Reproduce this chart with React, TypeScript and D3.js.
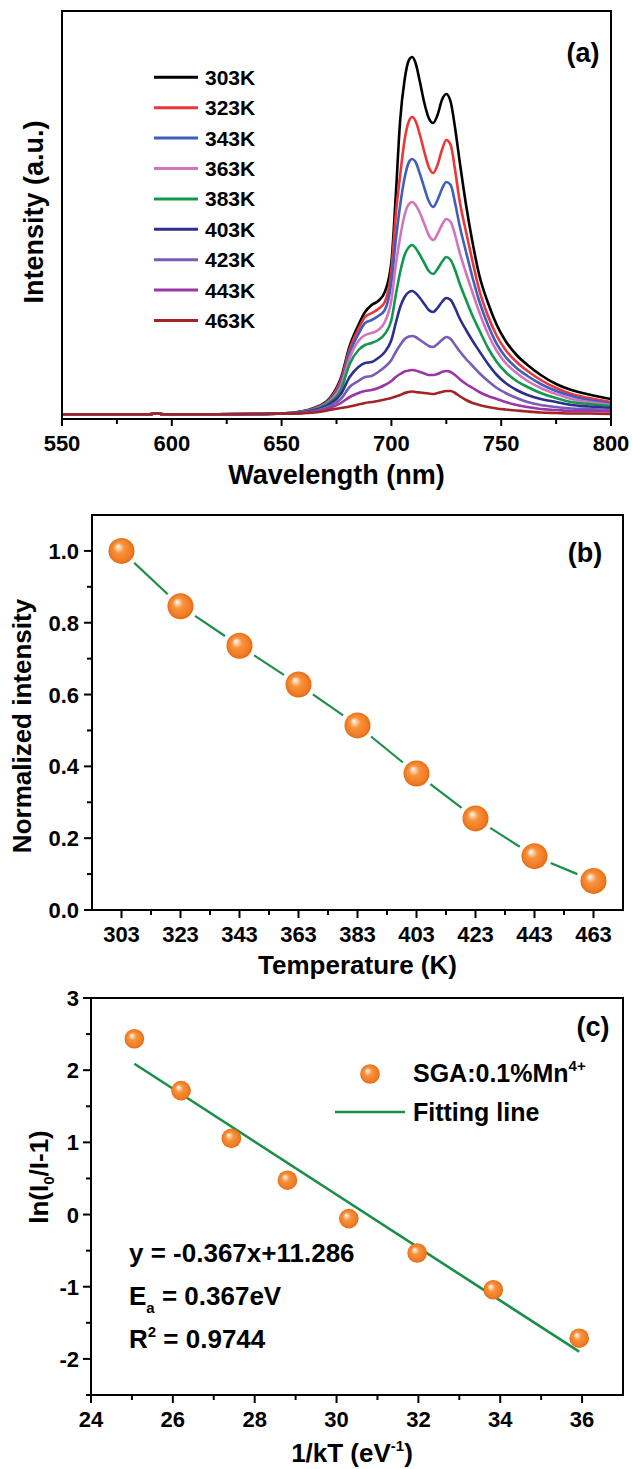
import React from "react";
import * as d3 from "d3";

// ---------- Panel (a): emission spectra ----------
const WAVELENGTHS = [550, 575, 590, 593, 596, 620, 640, 650, 656, 662, 667, 672, 677, 681, 685, 688, 691, 694, 697, 700, 702, 704, 706, 708, 709.5, 711, 713, 715, 717, 719, 721, 723, 725, 727, 729, 731, 734, 737, 740, 744, 748, 752, 757, 762, 768, 775, 782, 790, 800];

const TEMP_LABELS = ["303K", "323K", "343K", "363K", "383K", "403K", "423K", "443K", "463K"];

const SPEC_303K = [0.2, 0.2, 0.3, 1.3, 0.3, 0.2, 0.5, 1.0, 2, 4.5, 8.5, 16.5, 36.5, 68.5, 89.5, 102.5, 109.5, 113.5, 122.5, 152.5, 219.5, 294.5, 334.5, 354.5, 357.5, 351.5, 332.5, 311.5, 296.5, 291.5, 299.5, 314.5, 320.5, 312.5, 286.5, 254.5, 209.5, 171.5, 139.5, 111.5, 89.5, 73.5, 59.5, 49.5, 39.5, 30.5, 24.5, 20, 15.5];
const SPEC_323K = [0.2, 0.2, 0.3, 1.3, 0.3, 0.2, 0.5, 1.0, 1.9, 4.2, 8, 15.5, 34.5, 65.5, 85.5, 97.5, 101.5, 105.5, 112.5, 144.5, 199.5, 239.5, 274.5, 293.5, 297.5, 293.5, 279.5, 262.5, 247.5, 241.5, 249.5, 264.5, 274.5, 269.5, 244.5, 214.5, 182.5, 152.5, 124.5, 98.5, 78.5, 64.5, 52.5, 43.5, 34.5, 26.5, 20.5, 16.5, 12.5];
const SPEC_343K = [0.2, 0.2, 0.3, 1.3, 0.3, 0.2, 0.5, 1.0, 1.8, 3.9, 7.5, 14.5, 31.5, 61.5, 80.5, 91.5, 94.5, 98.5, 104.5, 132.5, 174.5, 209.5, 236.5, 252.5, 255.5, 252.5, 240.5, 226.5, 213.5, 207.5, 214.5, 225.5, 232.5, 229.5, 211.5, 189.5, 162.5, 136.5, 113.5, 89.5, 70.5, 57.5, 46.5, 38.5, 30.5, 23.5, 18.5, 14.5, 11];
const SPEC_363K = [0.2, 0.2, 0.3, 1.3, 0.3, 0.2, 0.5, 1.0, 1.7, 3.6, 7, 13.5, 28.5, 56.5, 73.5, 79.5, 81.5, 84.5, 92.5, 114.5, 149.5, 177.5, 199.5, 210.5, 212.5, 209.5, 201.5, 190.5, 179.5, 174.5, 180.5, 189.5, 195.5, 192.5, 179.5, 162.5, 141.5, 121.5, 102.5, 80.5, 63.5, 51.5, 41.5, 33.5, 26.5, 20.5, 15.5, 12.5, 9.5];
const SPEC_383K = [0.2, 0.2, 0.3, 1.3, 0.3, 0.2, 0.5, 1.0, 1.6, 3.3, 6.5, 12.5, 24.5, 50.5, 64.5, 69.5, 71.5, 74.5, 80.5, 94.5, 119.5, 142.5, 159.5, 167.5, 169.5, 166.5, 159.5, 151.5, 143.5, 140.5, 145.5, 152.5, 157.5, 154.5, 144.5, 131.5, 114.5, 98.5, 84.5, 66.5, 52.5, 42.5, 33.5, 27.5, 21.5, 16.5, 12.5, 10.5, 8.5];
const SPEC_403K = [0.2, 0.2, 0.3, 1.3, 0.3, 0.2, 0.5, 1.0, 1.5, 2.9, 5.5, 10.5, 20.5, 37.5, 47.5, 51.5, 52.5, 56.5, 62.5, 74.5, 91.5, 107.5, 117.5, 122.5, 123.5, 121.5, 116.5, 110.5, 104.5, 102.5, 106.5, 112.5, 116.5, 114.5, 106.5, 96.5, 84.5, 73.5, 63.5, 50.5, 39.5, 31.5, 24.5, 19.5, 15.5, 12.5, 9.5, 8, 6.5];
const SPEC_423K = [0.2, 0.2, 0.3, 1.3, 0.3, 0.2, 0.5, 1.0, 1.3, 2.5, 4.5, 8.5, 15.5, 27.5, 33.5, 37.5, 38.5, 42.5, 47.5, 54.5, 62.5, 69.5, 75.5, 78, 78.5, 77.5, 74.5, 71.5, 68.5, 67.5, 70.5, 74.5, 77.5, 75.5, 69.5, 63.5, 55.5, 48.5, 41.5, 33.5, 26.5, 21.5, 16.5, 12.5, 9.5, 7.5, 6, 5.5, 4.5];
const SPEC_443K = [0.2, 0.2, 0.3, 1.3, 0.3, 0.2, 0.5, 1.0, 1.1, 2, 3.5, 6.5, 11.5, 17.5, 21.5, 23.5, 24.5, 26.5, 29.5, 33.5, 37.5, 40.5, 43, 44, 44.5, 44, 42.5, 41, 39.5, 39.5, 40.5, 42.5, 43.5, 42.5, 39.5, 35.5, 30.5, 26.5, 22.5, 18.5, 15.5, 12.5, 9.5, 7.5, 5.5, 4.5, 3.5, 3.5, 3];
const SPEC_463K = [0.2, 0.2, 0.3, 1.3, 0.3, 0.2, 0.5, 1.0, 0.9, 1.5, 2.5, 4.5, 6.5, 8, 10, 11.5, 12.5, 13.5, 15, 16.5, 18, 19.5, 21.5, 22.5, 23, 22.5, 22, 21.5, 21, 20.5, 21.5, 22.5, 23.5, 23.5, 21.5, 18.5, 14.5, 11.5, 9.5, 7.5, 6, 5, 4, 3, 2, 1.5, 1, 1, 0.5];

const SPECTRA = [SPEC_303K, SPEC_323K, SPEC_343K, SPEC_363K, SPEC_383K, SPEC_403K, SPEC_423K, SPEC_443K, SPEC_463K];
const SPEC_COLORS = ["#000000", "#ef3636", "#3f5fbd", "#d274bd", "#12984e", "#2c2f8e", "#7a5bb5", "#9c36a6", "#a32424"];

const WL_MAJOR = [550, 600, 650, 700, 750, 800];
const WL_MINOR = [575, 625, 675, 725, 775];

// ---------- Panel (b): normalized intensity ----------
const TEMPS_K = [303, 323, 343, 363, 383, 403, 423, 443, 463];
const NORM_INTENSITY = [1.0, 0.846, 0.736, 0.628, 0.514, 0.38, 0.255, 0.15, 0.081];
const B_X_MINOR = [313, 333, 353, 373, 393, 413, 433, 453];
const B_Y_MAJOR = [0, 0.2, 0.4, 0.6, 0.8, 1.0];
const B_Y_MINOR = [0.1, 0.3, 0.5, 0.7, 0.9];

// ---------- Panel (c): Arrhenius fit ----------
const INV_KT = [25.06, 26.2, 27.43, 28.8, 30.3, 31.97, 33.83, 35.93];
const LN_RATIO = [2.435, 1.717, 1.055, 0.476, -0.056, -0.533, -1.042, -1.713];
const FIT_SLOPE = -0.367;
const FIT_INTERCEPT = 11.286;
const C_X_MAJOR = [24, 26, 28, 30, 32, 34, 36];
const C_X_MINOR = [25, 27, 29, 31, 33, 35];
const C_Y_MAJOR = [-2, -1, 0, 1, 2, 3];
const C_Y_MINOR = [-2.5, -1.5, -0.5, 0.5, 1.5, 2.5];

const FONT = "Arial, 'Liberation Sans', Helvetica, sans-serif";

function Ball({ cx, cy, r }: { cx: number; cy: number; r: number }) {
  return <circle cx={cx} cy={cy} r={r} fill="url(#ballGrad)" />;
}

export default function App() {
  const xa = d3.scaleLinear().domain([550, 800]).range([62, 611]);
  const ya = d3.scaleLinear().domain([-4.5, 403.5]).range([419, 11]);
  const xb = d3.scaleLinear().domain([293, 473]).range([92, 623]);
  const yb = d3.scaleLinear().domain([0, 1.1]).range([910, 515]);
  const xc = d3.scaleLinear().domain([24, 37]).range([91, 623]);
  const yc = d3.scaleLinear().domain([-2.5, 3]).range([1395, 998]);

  const lineA = d3
    .line<number>()
    .x((_, i) => xa(WAVELENGTHS[i]))
    .y((d) => ya(d))
    .curve(d3.curveMonotoneX);

  const gap = 17.5;
  const bSegs: string[] = [];
  for (let i = 0; i < TEMPS_K.length - 1; i++) {
    const x1 = xb(TEMPS_K[i]), y1 = yb(NORM_INTENSITY[i]);
    const x2 = xb(TEMPS_K[i + 1]), y2 = yb(NORM_INTENSITY[i + 1]);
    const L = Math.hypot(x2 - x1, y2 - y1);
    const ux = (x2 - x1) / L, uy = (y2 - y1) / L;
    bSegs.push(`M${x1 + ux * gap},${y1 + uy * gap}L${x2 - ux * gap},${y2 - uy * gap}`);
  }

  const fitX0 = INV_KT[0];
  const fitX1 = INV_KT[INV_KT.length - 1];

  const tickStyle = { stroke: "#000", strokeWidth: 2 };
  const tickFont = { fontFamily: FONT, fontWeight: 700, fontSize: 22, fill: "#000" } as const;
  const titleFont = { fontFamily: FONT, fontWeight: 700, fontSize: 26, fill: "#000" } as const;

  return (
    <svg
      width={632}
      height={1469}
      style={{ position: "absolute", left: 0, top: 0, background: "#fff" }}
      xmlns="http://www.w3.org/2000/svg"
    >
      <defs>
        <radialGradient id="ballGrad" cx="50%" cy="50%" r="50%" fx="35%" fy="32%">
          <stop offset="0%" stopColor="#ffffff" />
          <stop offset="14%" stopColor="#fcd9bb" />
          <stop offset="40%" stopColor="#f7933c" />
          <stop offset="85%" stopColor="#f07a22" />
          <stop offset="100%" stopColor="#e26812" />
        </radialGradient>
        <clipPath id="clipA">
          <rect x={62} y={11} width={549} height={408} />
        </clipPath>
      </defs>
      <rect x={0} y={0} width={632} height={1469} fill="#fff" />

      {/* ================= Panel (a) ================= */}
      <g clipPath="url(#clipA)">
        {SPECTRA.map((s, i) => (
          <path key={i} d={lineA(s) || ""} fill="none" stroke={SPEC_COLORS[i]} strokeWidth={2.6} strokeLinejoin="round" />
        ))}
      </g>
      <rect x={62} y={11} width={549} height={408} fill="none" stroke="#000" strokeWidth={2} />
      {WL_MAJOR.map((t) => (
        <g key={t}>
          <line x1={xa(t)} x2={xa(t)} y1={419} y2={426} {...tickStyle} />
          <text x={xa(t)} y={451} textAnchor="middle" {...tickFont}>{t}</text>
        </g>
      ))}
      {WL_MINOR.map((t) => (
        <line key={t} x1={xa(t)} x2={xa(t)} y1={419} y2={424} {...tickStyle} />
      ))}
      <text x={336.5} y={484} textAnchor="middle" {...titleFont} fontSize={27}>Wavelength (nm)</text>
      <text transform="translate(43,212) rotate(-90)" textAnchor="middle" {...titleFont} fontSize={27}>Intensity (a.u.)</text>
      <text x={583} y={62} textAnchor="middle" {...titleFont} fontSize={27}>(a)</text>
      {TEMP_LABELS.map((lab, i) => {
        const cy = 77.3 + i * 30.4;
        return (
          <g key={lab}>
            <line x1={154} x2={198} y1={cy} y2={cy} stroke={SPEC_COLORS[i]} strokeWidth={3} />
            <text x={205} y={cy + 7.5} {...tickFont} fontSize={21}>{lab}</text>
          </g>
        );
      })}

      {/* ================= Panel (b) ================= */}
      {bSegs.map((d, i) => (
        <path key={i} d={d} fill="none" stroke="#1b8f4a" strokeWidth={2.2} />
      ))}
      {TEMPS_K.map((t, i) => (
        <Ball key={t} cx={xb(t)} cy={yb(NORM_INTENSITY[i])} r={13} />
      ))}
      <rect x={92} y={515} width={531} height={395} fill="none" stroke="#000" strokeWidth={2} />
      {TEMPS_K.map((t) => (
        <g key={t}>
          <line x1={xb(t)} x2={xb(t)} y1={910} y2={918} {...tickStyle} />
          <text x={xb(t)} y={942} textAnchor="middle" {...tickFont}>{t}</text>
        </g>
      ))}
      {B_X_MINOR.map((t) => (
        <line key={t} x1={xb(t)} x2={xb(t)} y1={910} y2={915} {...tickStyle} />
      ))}
      {B_Y_MAJOR.map((v) => (
        <g key={v}>
          <line x1={84} x2={92} y1={yb(v)} y2={yb(v)} {...tickStyle} />
          <text x={79} y={yb(v) + 8} textAnchor="end" {...tickFont}>{v.toFixed(1)}</text>
        </g>
      ))}
      {B_Y_MINOR.map((v) => (
        <line key={v} x1={87} x2={92} y1={yb(v)} y2={yb(v)} {...tickStyle} />
      ))}
      <text x={357.5} y={974} textAnchor="middle" {...titleFont}>Temperature (K)</text>
      <text transform="translate(31,726) rotate(-90)" textAnchor="middle" {...titleFont}>Normalized intensity</text>
      <text x={585} y={562} textAnchor="middle" {...titleFont} fontSize={27}>(b)</text>

      {/* ================= Panel (c) ================= */}
      <line
        x1={xc(fitX0)}
        y1={yc(FIT_SLOPE * fitX0 + FIT_INTERCEPT)}
        x2={xc(fitX1)}
        y2={yc(FIT_SLOPE * fitX1 + FIT_INTERCEPT)}
        stroke="#1b8f4a"
        strokeWidth={2.6}
      />
      {INV_KT.map((x, i) => (
        <Ball key={x} cx={xc(x)} cy={yc(LN_RATIO[i])} r={9.8} />
      ))}
      <rect x={91} y={998} width={532} height={397} fill="none" stroke="#000" strokeWidth={2} />
      {C_X_MAJOR.map((t) => (
        <g key={t}>
          <line x1={xc(t)} x2={xc(t)} y1={1395} y2={1403} {...tickStyle} />
          <text x={xc(t)} y={1427} textAnchor="middle" {...tickFont}>{t}</text>
        </g>
      ))}
      {C_X_MINOR.map((t) => (
        <line key={t} x1={xc(t)} x2={xc(t)} y1={1395} y2={1400} {...tickStyle} />
      ))}
      {C_Y_MAJOR.map((v) => (
        <g key={v}>
          <line x1={83} x2={91} y1={yc(v)} y2={yc(v)} {...tickStyle} />
          <text x={79} y={yc(v) + 8} textAnchor="end" {...tickFont}>{v}</text>
        </g>
      ))}
      {C_Y_MINOR.map((v) => (
        <line key={v} x1={86} x2={91} y1={yc(v)} y2={yc(v)} {...tickStyle} />
      ))}
      <text x={352} y={1462} textAnchor="middle" {...titleFont}>
        1/kT (eV<tspan fontSize={15} dy={-11}>-1</tspan><tspan dy={11}>)</tspan>
      </text>
      <text transform="translate(48,1177) rotate(-90)" textAnchor="middle" {...titleFont}>
        ln(I<tspan fontSize={15} dy={6}>0</tspan><tspan dy={-6}>/I-1)</tspan>
      </text>
      <text x={593} y={1036} textAnchor="middle" {...titleFont} fontSize={27}>(c)</text>

      {/* legend (c) */}
      <Ball cx={370} cy={1074} r={9.8} />
      <text x={413} y={1082} {...titleFont} fontSize={25}>
        SGA:0.1%Mn<tspan fontSize={15} dy={-11}>4+</tspan>
      </text>
      <line x1={335} x2={405} y1={1112} y2={1112} stroke="#1b8f4a" strokeWidth={2.6} />
      <text x={413} y={1121} {...titleFont} fontSize={25}>Fitting line</text>

      {/* annotations (c) */}
      <text x={129} y={1262} {...titleFont} fontSize={26}>y = -0.367x+11.286</text>
      <text x={129} y={1305} {...titleFont} fontSize={26}>
        E<tspan fontSize={15} dy={8}>a</tspan><tspan dy={-8}> = 0.367eV</tspan>
      </text>
      <text x={129} y={1348} {...titleFont} fontSize={26}>
        R<tspan fontSize={15} dy={-11}>2</tspan><tspan dy={11}> = 0.9744</tspan>
      </text>
    </svg>
  );
}
